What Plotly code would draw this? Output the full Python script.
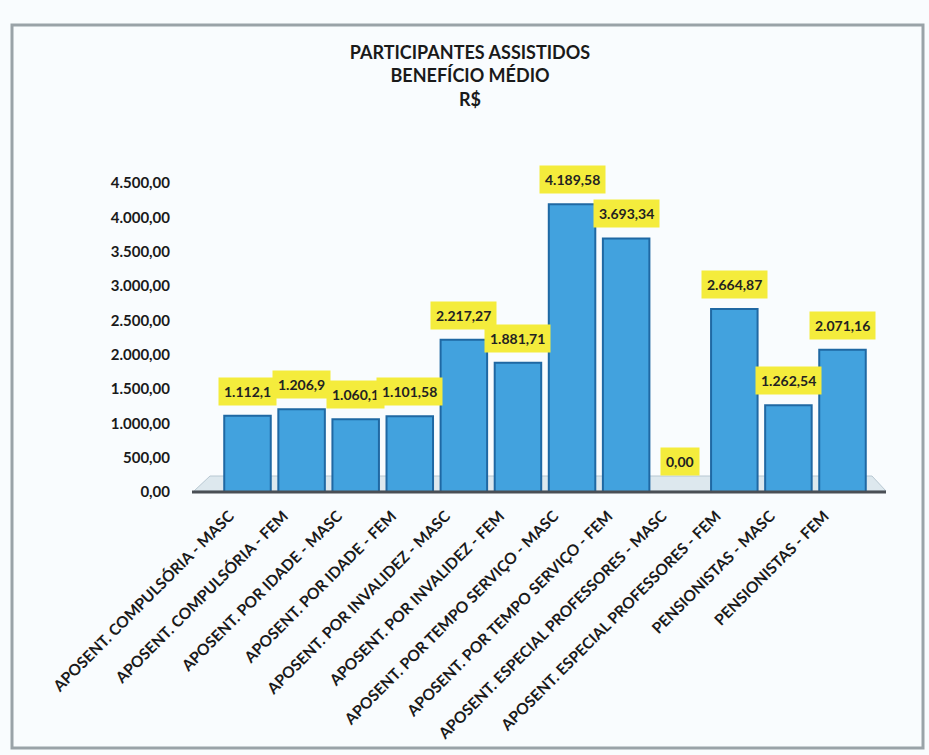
import plotly.graph_objects as go

categories = [
    "APOSENT. COMPULSÓRIA - MASC",
    "APOSENT. COMPULSÓRIA - FEM",
    "APOSENT. POR IDADE - MASC",
    "APOSENT. POR IDADE - FEM",
    "APOSENT. POR INVALIDEZ - MASC",
    "APOSENT. POR INVALIDEZ - FEM",
    "APOSENT. POR TEMPO SERVIÇO - MASC",
    "APOSENT. POR TEMPO SERVIÇO - FEM",
    "APOSENT. ESPECIAL PROFESSORES - MASC",
    "APOSENT. ESPECIAL PROFESSORES - FEM",
    "PENSIONISTAS - MASC",
    "PENSIONISTAS - FEM",
]
values = [1112.1, 1206.9, 1060.1, 1101.58, 2217.27, 1881.71,
          4189.58, 3693.34, 0.0, 2664.87, 1262.54, 2071.16]
value_labels = ["1.112,1", "1.206,9", "1.060,1", "1.101,58", "2.217,27", "1.881,71",
                "4.189,58", "3.693,34", "0,00", "2.664,87", "1.262,54", "2.071,16"]
y_tickvals = [0, 500, 1000, 1500, 2000, 2500, 3000, 3500, 4000, 4500]
y_ticktext = ["0,00", "500,00", "1.000,00", "1.500,00", "2.000,00", "2.500,00",
              "3.000,00", "3.500,00", "4.000,00", "4.500,00"]

W, H = 929, 755
L, R, T, B = 218, 53, 183, 263
FONT = "Lato"

fig = go.Figure()
fig.add_trace(go.Bar(
    x=categories, y=values,
    marker=dict(color="#42a2de", line=dict(color="#1f68a3", width=2)),
    width=0.86,
    hoverinfo="x+y",
))

for c, v, t in zip(categories, values, value_labels):
    fig.add_annotation(
        x=c, y=v, text="<b>" + t + "</b>", showarrow=False,
        yanchor="bottom", yshift=10 if v > 0 else 16,
        bgcolor="#f4ec3c", borderpad=5,
        font=dict(family=FONT, size=14, color="#222222"),
    )

pw, ph = W - L - R, H - T - B
def px2x(px):
    return (px - L) / pw
def py2y(py):
    return (H - B - py) / ph

# chart frame
fig.add_shape(type="rect", xref="paper", yref="paper",
              x0=px2x(12), x1=px2x(923), y0=py2y(748), y1=py2y(25),
              line=dict(color="#9aa3a8", width=3), fillcolor="rgba(0,0,0,0)", layer="below")
# 3D floor
fig.add_shape(type="path", xref="paper", yref="paper",
              path=f"M {px2x(194)},{py2y(491)} L {px2x(886)},{py2y(491)} L {px2x(872)},{py2y(476)} L {px2x(210)},{py2y(476)} Z",
              line=dict(color="#b8c8d2", width=1), fillcolor="#dde8ee", layer="below")
# floor front edge
fig.add_shape(type="line", xref="paper", yref="paper",
              x0=px2x(192), x1=px2x(886), y0=py2y(492), y1=py2y(492),
              line=dict(color="#4a4f55", width=3))

fig.update_layout(
    width=W, height=H,
    margin=dict(l=L, r=R, t=T, b=B),
    paper_bgcolor="#f9fcfe",
    plot_bgcolor="rgba(0,0,0,0)",
    showlegend=False,
    bargap=0.14,
    title=dict(
        text="<b>PARTICIPANTES ASSISTIDOS<br>BENEFÍCIO MÉDIO<br>R$</b>",
        x=470 / W, xref="container", xanchor="center",
        y=1 - 59 / H, yref="container", yanchor="top",
        font=dict(family=FONT, size=18, color="#1a1a1a"),
    ),
    font=dict(family=FONT, color="#1a1a1a"),
)
fig.update_yaxes(
    range=[0, 4500], tickvals=y_tickvals, ticktext=y_ticktext,
    showgrid=False, zeroline=False, showline=False,
    ticks="outside", ticklen=44, tickcolor="rgba(0,0,0,0)",
    tickfont=dict(family=FONT, size=15, color="#1a1a1a", weight="bold"),
)
fig.update_xaxes(
    tickangle=-45, showgrid=False, showline=False,
    ticks="outside", ticklen=8, tickcolor="rgba(0,0,0,0)",
    ticklabelshift=-18,
    tickfont=dict(family=FONT, size=15.5, color="#1a1a1a", weight="bold"),
)

fig.write_html("out.html")
